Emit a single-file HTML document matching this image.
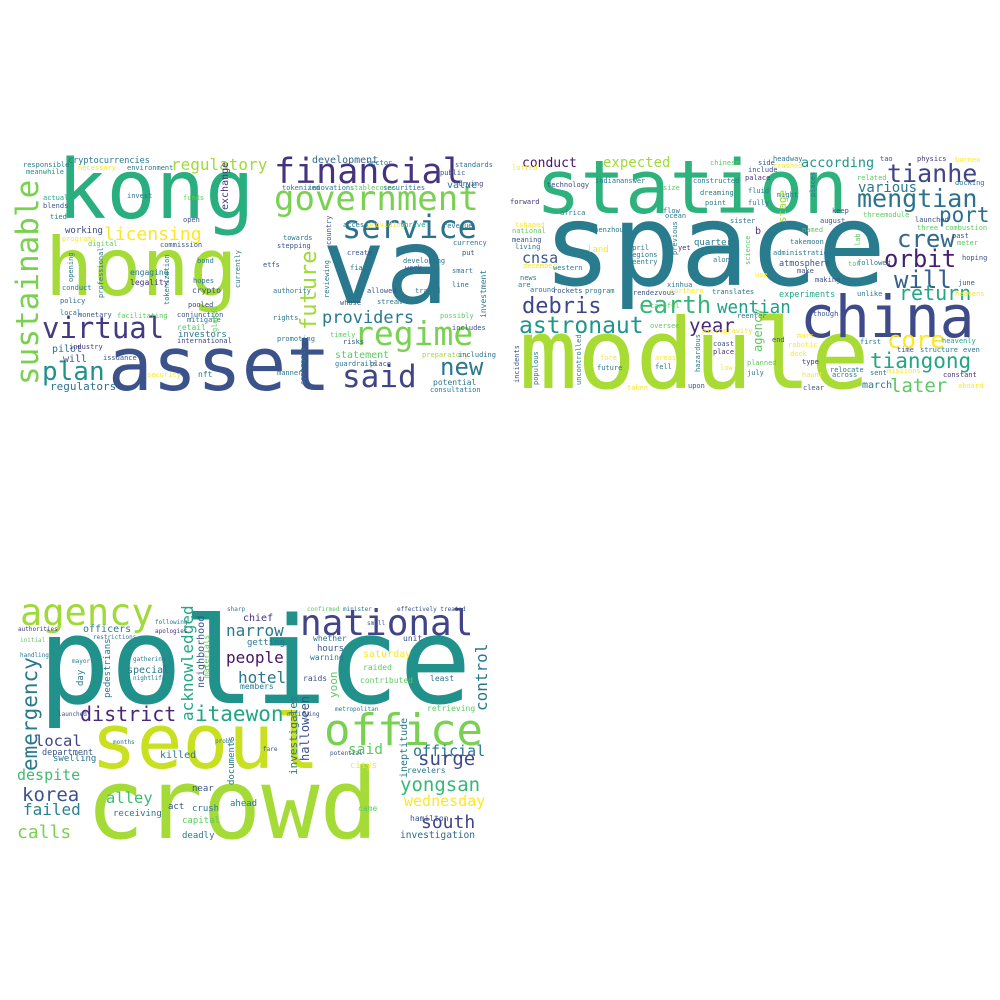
<!DOCTYPE html>
<html><head><meta charset="utf-8">
<style>
html,body{margin:0;padding:0;background:#fff;}
svg{display:block;}
text{font-family:"DejaVu Sans Mono","Liberation Mono",monospace;}
</style></head>
<body>
<svg id="chart" width="1000" height="1000" viewBox="0 0 1000 1000" xmlns="http://www.w3.org/2000/svg">
<rect width="1000" height="1000" fill="#ffffff"/>
<g id="p1"></g>
<g id="p2"></g>
<g id="p3"></g>
</svg>
<script>
// [word, x, baselineY, fontSize, color, rotate]
const words1 = [
["hong",45,295,80,"#a5db36",0],["kong",57,218,82,"#29af7f",0],["asset",108,390,74,"#3b528b",0],
["va",322,303,105,"#2a788e",0],["financial",274,183,35,"#46337e",0],["government",274,210,34,"#7ad151",0],
["service",342,238,32,"#2c728e",0],["regime",354,345,33,"#7ad151",0],["said",342,387,31,"#414487",0],
["new",440,375,24,"#2a788e",0],["providers",322,323,17,"#2a788e",0],["future",316,330,22,"#a0da39",-90],
["sustainable",38,385,31,"#7ad151",-90],["virtual",42,338,29,"#443a83",0],["plan",42,380,26,"#21918c",0],
["licensing",104,240,18,"#fde725",0],["regulatory",171,170,16,"#a0da39",0],["cryptocurrencies",68,163,8.5,"#2a788e",0],
["responsible",23,167,7,"#2a788e",0],["meanwhile",26,174,7,"#21918c",0],["actual",43,200,7,"#22a884",0],
["blends",43,208,7,"#3b528b",0],["tied",50,219,7,"#2a788e",0],["working",65,233,9,"#3e4989",0],
["programs",62,241,7,"#fde725",0],["digital",88,246,7,"#5ec962",0],["conduct",62,290,7,"#2a788e",0],
["policy",60,303,7,"#31688e",0],["local",60,315,7,"#2a788e",0],["monetary",78,317,7,"#3b528b",0],
["pilot",52,352,10,"#2c728e",0],["industry",69,349,7,"#46337e",0],["will",63,362,10,"#3b528b",0],
["issuance",103,360,7,"#3b528b",0],["regulators",50,390,11,"#2c728e",0],["development",312,163,10,"#31688e",0],
["sector",367,165,7,"#2a788e",0],["standards",455,167,7,"#2c728e",0],["public",440,175,7,"#3b528b",0],
["trying",458,186,7,"#3e4989",0],["tokenized",282,190,7,"#2a788e",0],["innovations",308,190,7,"#2a788e",0],
["stablecoins",350,190,7,"#5ec962",0],["securities",383,190,7,"#2a788e",0],["value",447,188,10,"#2a788e",0],
["invest",127,198,7,"#2a788e",0],["funds",183,200,7,"#5ec962",0],["open",183,222,7,"#3b528b",0],
["access",343,227,7,"#2a788e",0],["providing",367,227,7,"#fde725",0],["thrive",400,227,7,"#22a884",0],
["revenue",443,228,7,"#2c728e",0],["towards",283,240,7,"#2a788e",0],["stepping",277,248,7,"#3b528b",0],
["currency",453,245,7,"#2a788e",0],["create",347,255,7,"#3b528b",0],["commission",160,247,7,"#3b528b",0],
["bond",197,263,7,"#2a788e",0],["etfs",263,267,7,"#3b528b",0],["fiat",350,270,7,"#2a788e",0],
["developing",403,263,7,"#2c728e",0],["engaging",130,275,8,"#2a788e",0],["legality",130,285,8,"#46337e",0],
["hopes",193,283,7,"#2a788e",0],["crypto",192,293,8,"#3b528b",0],["authority",273,293,7,"#2a788e",0],
["allowed",367,293,7,"#3b528b",0],["traded",415,293,7,"#2a788e",0],["pooled",188,307,7,"#3e4989",0],
["whose",340,305,7,"#3b528b",0],["stream",377,304,7,"#2a788e",0],["facilitating",117,318,7,"#5ec962",0],
["conjunction",177,317,7,"#3b528b",0],["mitigate",187,322,7,"#2a788e",0],["rights",273,320,7,"#2a788e",0],
["possibly",440,318,7,"#5ec962",0],["retail",177,330,8,"#5ec962",0],["investors",178,337,9,"#2a788e",0],
["international",177,343,7,"#3e4989",0],["promoting",277,341,7,"#2a788e",0],["timely",330,337,7,"#5ec962",0],
["includes",452,330,7,"#3b528b",0],["statement",335,358,10,"#5ec962",0],["guardrails",335,366,7,"#2a788e",0],
["place",370,366,7,"#3b528b",0],["preparatory",422,357,7,"#a0da39",0],["including",458,357,7,"#2c728e",0],
["potential",433,385,8,"#2a788e",0],["consultation",430,392,7,"#2a788e",0],["nft",198,377,8,"#2a788e",0],
["security",147,377,7,"#fde725",0],["manner",277,375,7,"#2a788e",0],["risks",343,344,7,"#3b528b",0],
["smart",452,273,7,"#2a788e",0],["line",452,287,7,"#2c728e",0],["put",462,255,7,"#3b528b",0],
["work",405,270,7,"#3b528b",0],["necessary",78,170,7,"#fde725",0],["environment",127,170,7,"#2a788e",0],
["exchange",228,210,10,"#46337e",-90],["professional",103,298,7,"#2a788e",-90],["investment",486,318,8,"#2a788e",-90],
["tokenization",169,305,7,"#2a788e",-90],["global",217,332,7,"#5ec962",-90],["currently",240,288,7,"#2a788e",-90],
["country",331,245,7,"#3b528b",-90],["reviewing",329,298,7,"#2a788e",-90],["opening",73,282,7,"#2a788e",-90],
["contracts",305,385,7,"#2a788e",-90]
];
const words2 = [
["space",543,285,114,"#297b8e",0],["station",536,213,74,"#2db27d",0],["module",519,388,97,"#a8db34",0],
["china",800,337,58,"#3e4a89",0],["mengtian",857,207,25,"#2c728e",0],["tianhe",887,182,25,"#414487",0],
["crew",897,247,24,"#31688e",0],["port",939,222,21,"#2c728e",0],["orbit",884,267,24,"#481f70",0],
["will",894,288,24,"#34618d",0],["return",899,300,20,"#22a884",0],["core",887,348,24,"#fde725",0],
["tiangong",870,368,21,"#21a585",0],["later",890,392,19,"#5ec962",0],["debris",522,313,22,"#3f4788",0],
["astronaut",519,333,23,"#1f968b",0],["earth",639,313,24,"#35b779",0],["wentian",717,313,17.5,"#1f9e89",0],
["year",689,332,19,"#482878",0],["conduct",522,167,13,"#471365",0],["expected",603,167,14,"#a0da39",0],
["according",801,167,13.5,"#1f968b",0],["various",858,192,14,"#2a788e",0],["cnsa",522,263,15,"#375a8c",0],
["atmosphere",779,266,8.5,"#3b528b",0],["experiments",779,297,8.5,"#22a884",0],["quarter",694,245,9,"#2a788e",0],
["land",587,252,9,"#fde725",0],
["chinese",710,165,7,"#5ec962",0],["headway",773,161,7,"#2a788e",0],["side",758,165,7,"#3b528b",0],
["crashed",773,168,7,"#fde725",0],["include",748,172,7,"#3b528b",0],["tao",880,161,7,"#3b528b",0],
["physics",917,161,7,"#46337e",0],["borneo",955,162,7,"#fde725",0],["lofted",512,170,7,"#fde725",0],
["palace",745,180,7,"#46337e",0],["related",857,180,7,"#5ec962",0],["technology",547,187,7,"#3e4989",0],
["indian",595,183,7,"#2a788e",0],["answer",620,183,7,"#2a788e",0],["constructed",693,183,7,"#2a788e",0],
["size",663,190,7,"#5ec962",0],["fluid",748,193,7,"#2a788e",0],["might",777,197,7,"#2a788e",0],
["docking",955,185,7,"#2a788e",0],["forward",510,204,7,"#46337e",0],["dreaming",700,195,7,"#2a788e",0],
["point",705,205,7,"#2a788e",0],["fully",748,205,7,"#2a788e",0],["africa",560,215,7,"#2a788e",0],
["flow",663,213,7,"#2a788e",0],["ocean",665,218,7,"#2a788e",0],["keep",832,213,7,"#3b528b",0],
["threemodule",863,217,7,"#5ec962",0],["tshaped",515,227,7,"#fde725",0],["national",512,233,7,"#5ec962",0],
["sister",730,223,7,"#2a788e",0],["august",820,223,7,"#3b528b",0],["launched",915,222,7,"#3b528b",0],
["three",917,230,7,"#5ec962",0],["combustion",945,230,7,"#5ec962",0],["shenzhou",590,232,7,"#2a788e",0],
["b",755,234,10,"#46337e",0],["named",802,232,7,"#5ec962",0],["past",952,238,7,"#3b528b",0],
["meaning",512,242,7,"#3b528b",0],["take",790,244,7,"#2a788e",0],["moon",807,244,7,"#2a788e",0],
["meter",957,245,7,"#5ec962",0],["living",515,249,7,"#2a788e",0],["april",628,250,7,"#2a788e",0],
["regions",628,257,7,"#2a788e",0],["administration",773,255,7,"#2a788e",0],["yet",678,250,7,"#46337e",0],
["reentry",628,264,7,"#2a788e",0],["along",713,262,7,"#2a788e",0],["followed",857,265,7,"#2a788e",0],
["hoping",962,260,7,"#3b528b",0],["december",523,268,7,"#fde725",0],["western",553,270,7,"#2a788e",0],
["ton",848,266,7,"#5ec962",0],["make",797,273,7,"#3b528b",0],["use",755,277,7,"#fde725",0],
["news",520,280,7,"#2a788e",0],["making",815,282,7,"#3b528b",0],["are",518,287,7,"#2a788e",0],
["around",530,292,7,"#2a788e",0],["rockets",553,293,7,"#3b528b",0],["program",585,293,7,"#2a788e",0],
["xinhua",667,287,7,"#2a788e",0],["rendezvous",633,295,7,"#3b528b",0],["northern",670,293,7,"#fde725",0],
["translates",712,294,7,"#2a788e",0],["unlike",857,296,7,"#2a788e",0],["june",958,285,7,"#3b528b",0],
["heavens",955,296,7,"#fde725",0],["careful",650,308,7,"#5ec962",0],["reenter",737,318,7,"#2a788e",0],
["though",813,316,7,"#3b528b",0],["oversee",650,328,7,"#5ec962",0],["microgravity",702,333,7,"#fde725",0],
["end",772,342,7,"#3b528b",0],["mars",797,338,7,"#fde725",0],["first",860,344,7,"#2a788e",0],
["coast",713,346,7,"#3b528b",0],["robotic",788,347,7,"#fde725",0],["heavenly",942,343,7,"#22a884",0],
["time",897,352,7,"#3b528b",0],["structure",920,352,7,"#2a788e",0],["even",963,352,7,"#2a788e",0],
["place",713,354,7,"#46337e",0],["dock",790,356,7,"#fde725",0],["fore",600,360,7,"#fde725",0],
["areas",655,360,7,"#fde725",0],["type",802,364,7,"#46337e",0],["planned",747,365,7,"#5ec962",0],
["fell",655,369,7,"#2a788e",0],["future",597,370,7,"#2a788e",0],["low",720,370,7,"#fde725",0],
["relocate",830,372,7,"#2a788e",0],["missions",887,373,7,"#fde725",0],["july",747,375,7,"#2a788e",0],
["across",832,377,7,"#2a788e",0],["sent",870,375,7,"#2a788e",0],["haunt",802,377,7,"#fde725",0],
["constant",943,377,7,"#46337e",0],["taken",627,390,7,"#fde725",0],["upon",688,388,7,"#3b528b",0],
["clear",803,390,7,"#3b528b",0],["march",862,388,10,"#2a788e",0],["aboard",958,388,7,"#fde725",0],
["stage",786,223,11,"#a0da39",-90],["agency",762,352,12,"#5ec962",-90],["science",750,265,7,"#5ec962",-90],
["previous",677,255,7,"#2a788e",-90],["uncontrolled",581,385,7,"#2a788e",-90],["incidents",519,383,7,"#3b528b",-90],
["populous",538,385,7,"#2a788e",-90],["hazardous",700,372,7,"#2a788e",-90],["places",815,197,7,"#2a788e",-90],
["lab",860,246,7,"#5ec962",-90]
];
const words3 = [
["police",38,703,120,"#21918c",0],["seoul",91,768,76,"#c8e020",0],["crowd",86,838,97,"#a5db36",0],
["office",324,745,44,"#7ad151",0],["national",300,635,36,"#414487",0],["agency",20,625,37,"#a0da39",0],
["emergency",37,771,21,"#2a788e",-90],["district",80,721,20,"#482878",0],["itaewon",195,721,21,"#21a585",0],
["acknowledged",193,721,16,"#22a884",-90],["narrow",226,636,16,"#2a788e",0],["people",226,663,16,"#471365",0],
["hotel",238,683,16,"#2a788e",0],["chief",243,621,10,"#46337e",0],["control",487,711,16,"#2a788e",-90],
["local",35,746,15.5,"#404688",0],["department",42,755,8.5,"#3b528b",0],["despite",17,780,15,"#3fbc73",0],
["korea",22,801,19,"#3b528b",0],["failed",23,815,16,"#26828e",0],["calls",17,838,18,"#7ad151",0],
["said",348,754,14.5,"#5ec962",0],["official",413,756,15,"#2a788e",0],["surge",418,765,19,"#3e4989",0],
["yongsan",400,791,19,"#35b779",0],["wednesday",404,806,15,"#fde725",0],["south",421,828,18,"#414487",0],
["investigation",400,838,9.6,"#31688e",0],["alley",106,803,15.5,"#3fbc73",0],["hamilton",410,821,8,"#3b528b",0],
["officers",83,632,10,"#2a788e",0],["authorities",18,631,6,"#46337e",0],["following",155,624,6,"#2a788e",0],
["apologies",155,633,6,"#46337e",0],["restrictions",93,639,6,"#2a788e",0],["initial",20,642,6,"#5ec962",0],
["sharp",227,611,6,"#2a788e",0],["confirmed",307,611,6,"#5ec962",0],["minister",343,611,6,"#2a788e",0],
["effectively treated",397,611,6,"#3b528b",0],["small",367,625,6,"#3b528b",0],["getting",247,645,9,"#2a788e",0],
["whether",313,641,8,"#2a788e",0],["unit",403,641,8,"#3b528b",0],["hours",317,651,9,"#3b528b",0],
["saturday",363,657,10,"#fde725",0],["warning",310,660,8,"#2a788e",0],["special",127,673,10,"#2a788e",0],
["raided",363,670,8,"#5ec962",0],["raids",303,681,8,"#3b528b",0],["least",430,681,8,"#2a788e",0],
["members",240,689,8,"#2a788e",0],["contributed",360,683,8,"#5ec962",0],["handling",20,657,6,"#2a788e",0],
["mayor",72,663,6,"#2a788e",0],["gathering",133,661,6,"#2a788e",0],["nightlife",133,680,6,"#2a788e",0],
["retrieving",427,711,8,"#5ec962",0],["metropolitan",335,711,6,"#2a788e",0],["notifying",287,716,6,"#3b528b",0],
["launched",58,716,6,"#3b528b",0],["killed",160,758,10,"#2a788e",0],["swelling",53,761,9,"#2a788e",0],
["revelers",407,773,8,"#2a788e",0],["citys",350,768,9,"#fde725",0],["near",192,791,9,"#3b528b",0],
["ahead",230,806,9,"#2a788e",0],["crush",192,811,9,"#2a788e",0],["act",168,809,9,"#3b528b",0],
["came",358,811,8,"#5ec962",0],["receiving",113,816,9,"#2a788e",0],["capital",182,823,9,"#5ec962",0],
["deadly",182,838,9,"#2a788e",0],["probe",215,743,6,"#2a788e",0],["fare",263,751,6,"#3b528b",0],
["potential",330,755,6,"#3b528b",0],["months",113,744,6,"#2a788e",0],
["pedestrians",110,698,9,"#2a788e",-90],["neighborhood",204,688,10,"#3b528b",-90],["halloween",309,761,12,"#3b528b",-90],
["investigates",297,775,11,"#2a788e",-90],["yoon",337,698,11,"#5ec962",-90],["ineptitude",407,778,10,"#2a788e",-90],
["day",83,686,9,"#2a788e",-90],["documents",234,785,9,"#2a788e",-90],["materials",209,678,8,"#5ec962",-90]
];
function draw(gid, list){
  const g = document.getElementById(gid);
  list.forEach(w=>{
    const t = document.createElementNS('http://www.w3.org/2000/svg','text');
    
    
    t.setAttribute('x', w[1]);
    t.setAttribute('y', w[2]);
    t.setAttribute('font-size', w[3]);
    t.setAttribute('fill', w[4]);
    if (w[5]) t.setAttribute('transform', 'rotate(' + w[5] + ' ' + w[1] + ' ' + w[2] + ')');
    t.textContent = w[0];
    g.appendChild(t);
  });
}
draw('p1', words1);
draw('p2', words2);
draw('p3', words3);
</script>
</body></html>
